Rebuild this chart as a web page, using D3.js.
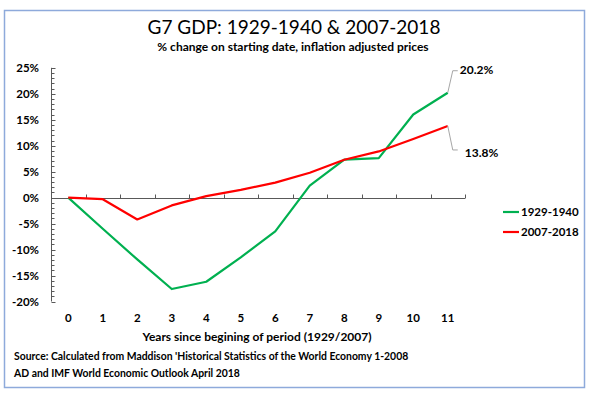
<!DOCTYPE html>
<html>
<head>
<meta charset="utf-8">
<script src="https://cdn.jsdelivr.net/npm/d3@7"></script>
<style>
  body { margin: 0; background: #fff; }
  svg text { font-family: Lato, "Open Sans", sans-serif; fill: #000; }
</style>
</head>
<body>
<div id="chart"></div>
<script>
// data
var years = [0, 1, 2, 3, 4, 5, 6, 7, 8, 9, 10, 11];
var gdp1929 = [0, -6.0, -11.9, -17.6, -16.2, -11.5, -6.5, 2.3, 7.3, 7.6, 16.0, 20.2];
var gdp2007 = [0, -0.3, -4.2, -1.5, 0.3, 1.5, 2.9, 4.8, 7.3, 8.9, 11.3, 13.8];
var yTicks = [-20, -15, -10, -5, 0, 5, 10, 15, 20, 25];
var seriesNames = ["1929-1940", "2007-2018"];
var seriesColors = ["#00b050", "#ff0000"];

var width = 592, height = 395;

var svg = d3.select("#chart")
    .append("svg")
    .attr("width", width)
    .attr("height", height);

// outer frame
svg.append("rect")
    .attr("x", 4.5).attr("y", 10.5)
    .attr("width", 580).attr("height", 377)
    .attr("fill", "none")
    .attr("stroke", "#8eaadb")
    .attr("stroke-width", 1.5);

svg.append("text")
    .attr("x", 294).attr("y", 34)
    .attr("text-anchor", "middle")
    .style("font-size", "19px")
    .text("G7 GDP: 1929-1940 & 2007-2018");

svg.append("text")
    .attr("x", 293).attr("y", 51)
    .attr("text-anchor", "middle")
    .style("font-size", "12px")
    .style("font-weight", "bold")
    .text("% change on starting date, inflation adjusted prices");

var x = d3.scaleBand()
    .domain(years)
    .range([51, 465]);

var y = d3.scaleLinear()
    .domain([-20, 25])
    .range([301.5, 67.8]);

var cx = function (d) { return x(d) + x.bandwidth() / 2; };

// y axis line + ticks (inside)
svg.append("line")
    .attr("x1", 51.5).attr("x2", 51.5)
    .attr("y1", y(25)).attr("y2", y(-20))
    .attr("stroke", "#595959");

svg.selectAll(".minor")
    .data(d3.range(-20, 26, 1))
    .enter()
    .append("line")
    .attr("x1", 51.5)
    .attr("x2", function (d) { return d % 5 === 0 ? 55.5 : 54.5; })
    .attr("y1", function (d) { return Math.round(y(d)) + 0.5; })
    .attr("y2", function (d) { return Math.round(y(d)) + 0.5; })
    .attr("stroke", "#595959");

svg.selectAll(".ylab")
    .data(yTicks)
    .enter()
    .append("text")
    .attr("x", 39)
    .attr("y", function (d) { return y(d) + 4; })
    .attr("text-anchor", "end")
    .style("font-size", "11.5px")
    .style("font-weight", "bold")
    .text(function (d) { return d + "%"; });

// x axis at zero
var y0 = Math.round(y(0)) + 0.5;
svg.append("line")
    .attr("x1", 51.5).attr("x2", 465)
    .attr("y1", y0).attr("y2", y0)
    .attr("stroke", "#595959");

svg.selectAll(".xtick")
    .data(years.slice(1).concat([12]))
    .enter()
    .append("line")
    .attr("x1", function (d) { return Math.round(51 + d * x.bandwidth()) + 0.5; })
    .attr("x2", function (d) { return Math.round(51 + d * x.bandwidth()) + 0.5; })
    .attr("y1", y0).attr("y2", y0 - 4)
    .attr("stroke", "#595959");

svg.selectAll(".xlab")
    .data(years)
    .enter()
    .append("text")
    .attr("x", cx)
    .attr("y", 322)
    .attr("text-anchor", "middle")
    .style("font-size", "11.5px")
    .style("font-weight", "bold")
    .text(function (d) { return d; });

svg.append("text")
    .attr("x", 257).attr("y", 341)
    .attr("text-anchor", "middle")
    .style("font-size", "12px")
    .style("font-weight", "bold")
    .text("Years since begining of period (1929/2007)");

// series lines
var line = d3.line()
    .x(function (d, i) { return cx(years[i]); })
    .y(function (d) { return y(d); });

[gdp1929, gdp2007].forEach(function (s, k) {
    svg.append("path")
        .datum(s)
        .attr("d", line)
        .attr("fill", "none")
        .attr("stroke", seriesColors[k])
        .attr("stroke-width", 2.2)
        .attr("stroke-linejoin", "round");
});

// end labels with leader lines
var last = years.length - 1;
var ends = [
    {v: gdp1929[last], dy: -22, ty: 74},
    {v: gdp2007[last], dy: 24, ty: 157}
];
ends.forEach(function (e) {
    var px = cx(years[last]), py = y(e.v);
    svg.append("polyline")
        .attr("points", [[px, py], [px + 5, py + e.dy], [px + 10, py + e.dy]].join(" "))
        .attr("fill", "none")
        .attr("stroke", "#a6a6a6");
    svg.append("text")
        .attr("x", e.dy < 0 ? px + 12 : px + 17)
        .attr("y", e.ty)
        .style("font-size", "12px")
        .style("font-weight", "bold")
        .text(e.v.toFixed(1) + "%");
});

// legend
seriesNames.forEach(function (n, k) {
    var ly = 212 + k * 20;
    svg.append("line")
        .attr("x1", 503).attr("x2", 519)
        .attr("y1", ly).attr("y2", ly)
        .attr("stroke", seriesColors[k])
        .attr("stroke-width", 2.2);
    svg.append("text")
        .attr("x", 521).attr("y", ly + 4)
        .style("font-size", "11.5px")
        .style("font-weight", "bold")
        .text(n);
});

// source note
var notes = ["Source: Calculated from Maddison 'Historical Statistics of the World Economy 1-2008",
    "AD and IMF World Economic Outlook April 2018"];
svg.selectAll(".note")
    .data(notes)
    .enter()
    .append("text")
    .attr("x", 14)
    .attr("y", function (d, i) { return 360 + i * 17; })
    .style("font-size", "10.4px")
    .style("font-weight", "bold")
    .text(function (d) { return d; });
</script>
</body>
</html>
